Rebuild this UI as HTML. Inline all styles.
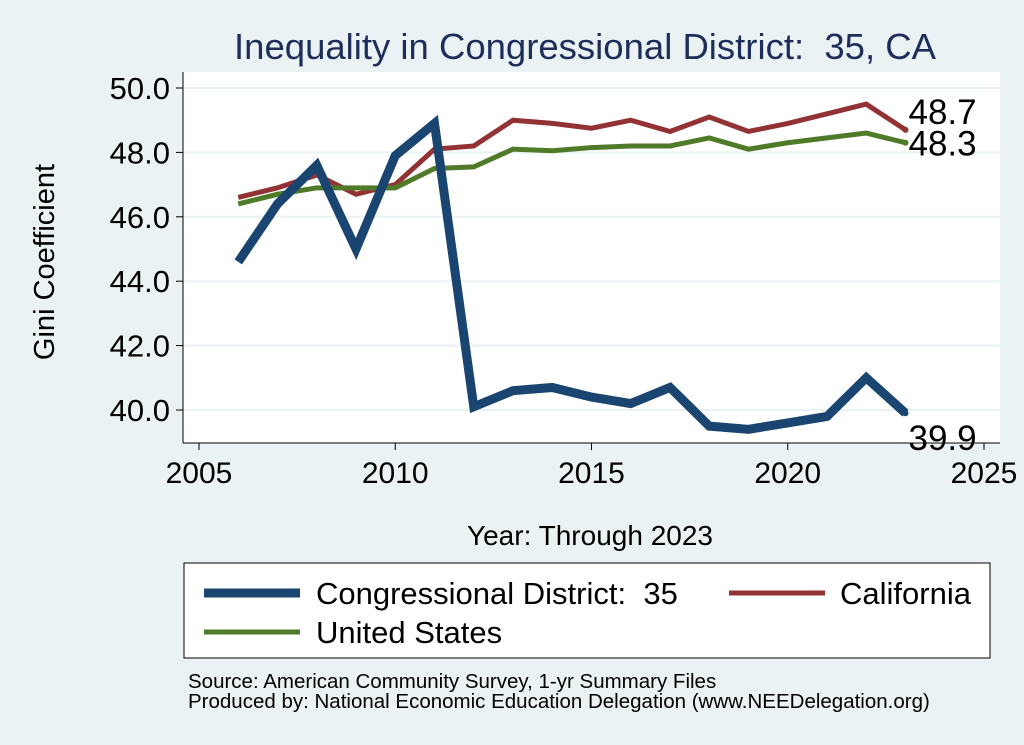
<!DOCTYPE html>
<html><head><meta charset="utf-8"><style>
body{margin:0;background:#eaf2f3;}
svg{display:block;font-family:"Liberation Sans",sans-serif;}
text{white-space:pre;}
</style></head><body>
<svg id="c" width="1024" height="745" viewBox="0 0 1024 745">
<rect x="0" y="0" width="1024" height="745" fill="#eaf2f3"/>
<rect x="183" y="72" width="817" height="371" fill="#ffffff"/>
<text x="585" y="59" text-anchor="middle" font-size="36.5" fill="#1e2d5a">Inequality in Congressional District:  35, CA</text>
<text transform="translate(54,262) rotate(-90)" text-anchor="middle" font-size="29" fill="#000">Gini Coefficient</text>
<text x="590" y="545" text-anchor="middle" font-size="28" fill="#000">Year: Through 2023</text>
<g id="grid"></g><g id="axes"></g><g id="series"></g><g id="labels"></g>
<rect x="184" y="563" width="806" height="95" fill="#fff" stroke="#000" stroke-width="1"/>
<g><line x1="204" y1="593" x2="300" y2="593" stroke="#1a4570" stroke-width="9"/><text x="316" y="604" font-size="31">Congressional District:  35</text></g>
<g><line x1="729" y1="593" x2="825" y2="593" stroke="#923234" stroke-width="5"/><text x="840" y="604" font-size="31">California</text></g>
<g><line x1="204" y1="632" x2="300" y2="632" stroke="#4f7a28" stroke-width="5"/><text x="316" y="643" font-size="31">United States</text></g>
<text x="188" y="688" font-size="20.5">Source: American Community Survey, 1-yr Summary Files</text>
<text x="188" y="708" font-size="20.5">Produced by: National Economic Education Delegation (www.NEEDelegation.org)</text>
</svg>
<script>
const years=[2006,2007,2008,2009,2010,2011,2012,2013,2014,2015,2016,2017,2018,2019,2020,2021,2022,2023];
const district=[44.6,46.4,47.6,45.0,47.9,48.9,40.1,40.6,40.7,40.4,40.2,40.7,39.5,39.4,39.6,39.8,41.0,39.9];
const california=[46.6,46.9,47.3,46.7,47.0,48.1,48.2,49.0,48.9,48.75,49.0,48.65,49.1,48.65,48.9,49.2,49.5,48.7];
const unitedStates=[46.4,46.7,46.9,46.9,46.9,47.5,47.55,48.1,48.05,48.15,48.2,48.2,48.45,48.1,48.3,48.45,48.6,48.3];
const xTicks=[2005,2010,2015,2020,2025];
const yTicks=[40,42,44,46,48,50];
const NS='http://www.w3.org/2000/svg';
const X=v=>199+(v-2005)*39.25;
const Y=v=>410-(v-40)*32.2;
function mk(t,a,p){const e=document.createElementNS(NS,t);for(const k in a)e.setAttribute(k,a[k]);document.getElementById(p).appendChild(e);return e;}
yTicks.forEach(v=>{
 const g=mk('line',{x1:183,x2:1000,y1:Y(v),y2:Y(v),stroke:'#eaf2f3','stroke-width':2},'grid');
 
 
 const t=mk('line',{x1:176,x2:183,y1:Y(v),y2:Y(v),stroke:'#000'},'axes');
 
 
 const l=mk('text',{x:170,y:Y(v)+11,'text-anchor':'end','font-size':31},'axes');
 l.textContent=v.toFixed(1);
 
 
});
xTicks.forEach(v=>{
 const t=mk('line',{x1:X(v),x2:X(v),y1:443,y2:450,stroke:'#000'},'axes');
 
 
 const l=mk('text',{x:X(v),y:483,'text-anchor':'middle','font-size':30},'axes');
 l.textContent=v;
 
 
});
const ya=mk('line',{x1:183,x2:183,y1:72,y2:443,stroke:'#000'},'axes');


const xa=mk('line',{x1:183,x2:1000,y1:443,y2:443,stroke:'#000'},'axes');


function line(d,c,w,n){
 const p=mk('polyline',{points:d.map((v,i)=>X(years[i])+','+Y(v)).join(' '),fill:'none',stroke:c,'stroke-width':w,'stroke-linejoin':'miter'},'series');
 
 
 const last=d[d.length-1];
 const dot=mk('circle',{cx:X(years[years.length-1]),cy:Y(last),r:3,fill:c},'series');
 
 
}
line(california,'#923234',5,'california-line');
line(unitedStates,'#4f7a28',5,'us-line');
line(district,'#1a4570',9,'district-line');
function lab(v,dy,n){
 const t=mk('text',{x:X(2023)+3,y:Y(v)+dy,'font-size':35},'labels');
 t.textContent=v.toFixed(1);
 
 
}
lab(california[17],-6,'california-end-label');
lab(unitedStates[17],13,'us-end-label');
lab(district[17],37,'district-end-label');
</script>
</body></html>
